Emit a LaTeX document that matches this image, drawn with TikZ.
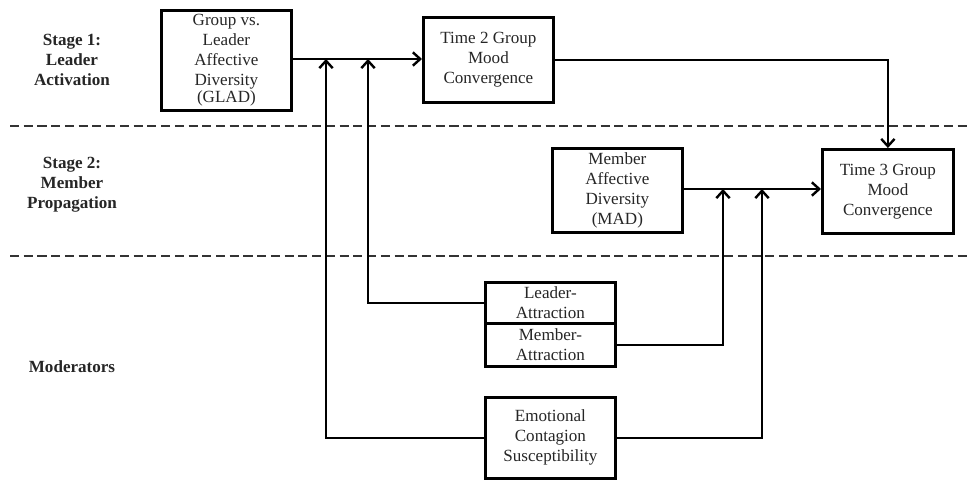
\documentclass[tikz,border=0pt]{standalone}
\usepackage{fontspec}
\setmainfont{Liberation Serif}
\usetikzlibrary{arrows.meta}
\tikzset{
  box/.style={draw, line width=2.1pt, inner sep=0pt, align=center, anchor=north west,
    font=\fontsize{12.8}{15}\selectfont, text=black!85},
  dims/.style 2 args={minimum width=#1*0.75pt, minimum height=#2*0.75pt},
  conn/.style={line width=1.8pt},
  arr/.style={conn, -{Straight Barb[length=5.5pt,width=10pt,line width=1.8pt]}},
  sep/.style={line width=1.7pt, black!80, dash pattern=on 6.8pt off 3.5pt},
  stagelbl/.style={align=center, font=\fontsize{12.8}{15}\selectfont\bfseries, text=black!85}
}
\begin{document}
\begin{tikzpicture}[x=0.75pt,y=-0.75pt]
\useasboundingbox (0,0) rectangle (971,479);
% separators
\coordinate (s1a) at (10,126); \coordinate (s1b) at (971,126);
\coordinate (s2a) at (10,256); \coordinate (s2b) at (971,256);
\draw[sep] (s1a) -- (s1b);
\draw[sep] (s2a) -- (s2b);
% stage labels
\node[stagelbl] (st1) at (72,60) {Stage 1:\\Leader\\Activation};
\node[stagelbl] (st2) at (72,185) {Stage 2:\\Member\\Propagation};
\node[stagelbl] (mod) at (72,367) {Moderators};
% boxes
\node[box, dims={130}{100}] (glad) at (160,9) {Group vs.\\Leader\\Affective\\Diversity\\[-2pt](GLAD)};
\node[box, dims={130}{85}] (t2) at (422,16) {Time 2 Group\\Mood\\Convergence};
\node[box, dims={130}{84}] (mad) at (551,147) {Member\\Affective\\Diversity\\(MAD)};
\node[box, dims={131}{84}] (t3) at (821,148) {Time 3 Group\\Mood\\Convergence};
\node[box, dims={130}{41}] (la) at (484,281) {Leader-\\Attraction};
\node[box, dims={130}{43}] (ma) at (484,322) {Member-\\Attraction};
\node[box, dims={130}{81}] (ecs) at (484,396) {Emotional\\Contagion\\Susceptibility};
% junction points
\coordinate (j1) at (326,59);
\coordinate (j2) at (368,59);
\coordinate (j3) at (723,189);
\coordinate (j4) at (762,189);
% connectors
\draw[arr] (glad.east |- j1) -- (t2.west |- j1);
\draw[arr] (t2.east) -| (t3.north);
\draw[arr] (mad.east |- j3) -- (t3.west |- j3);
\draw[arr] (ecs.west) -| (j1);
\draw[arr] (la.west) -| (j2);
\draw[arr] (ma.east) -| (j3);
\draw[arr] (ecs.east) -| (j4);
\end{tikzpicture}
\end{document}
